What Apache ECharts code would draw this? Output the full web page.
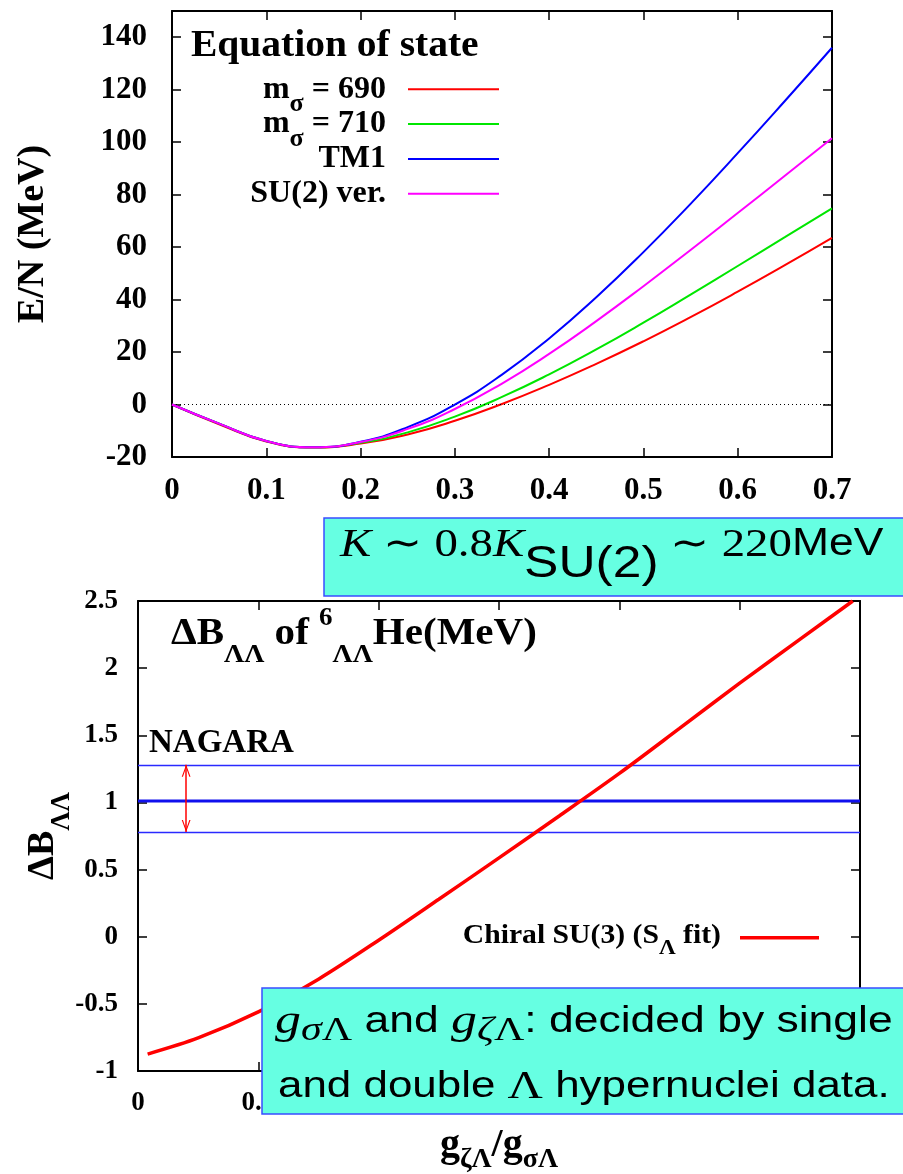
<!DOCTYPE html>
<html>
<head>
<meta charset="utf-8">
<script src="https://cdn.jsdelivr.net/npm/echarts@6/dist/echarts.min.js"></script>
<style>
  html, body { margin: 0; padding: 0; background: #ffffff; }
  #chart { width: 903px; height: 1174px; }
</style>
</head>
<body>
<div id="chart"></div>
<script>
const SERIF = '"Liberation Serif", "Times New Roman", serif';
const SANS = '"Liberation Sans", Arial, sans-serif';

// ---- Equation of state: E/N (MeV) against density ----
const density   = [0, 0.05, 0.1, 0.15, 0.2, 0.25, 0.3, 0.35, 0.4, 0.45, 0.5, 0.55, 0.6, 0.65, 0.7];
const eosMs690  = [0, -7.5, -14.1, -16.4, -14.9, -11.4, -6.2, 0.2, 7.5, 15.5, 24.1, 33.3, 43.0, 53.1, 63.5];
const eosMs710  = [0, -7.3, -13.9, -16.3, -14.6, -10.6, -4.6, 2.9, 11.5, 21.0, 31.2, 41.9, 52.8, 63.8, 74.8];
const eosTM1    = [0, -7.3, -13.9, -16.3, -14.2, -8.6, 0.0, 11.4, 25.2, 40.9, 58.1, 76.5, 95.8, 115.7, 136.0];
const eosSU2    = [0, -7.3, -13.9, -16.3, -14.3, -9.3, -1.7, 8.0, 19.3, 31.8, 45.1, 58.9, 73.0, 87.2, 101.5];
const eosNames  = ['m_σ = 690', 'm_σ = 710', 'TM1', 'SU(2) ver.'];
const eosLegend = ['{b|m}{s|σ}{b| = 690}', '{b|m}{s|σ}{b| = 710}', '{b|TM1}', '{b|SU(2) ver.}'];
const eosColors = ['#ff0000', '#00e600', '#0000ff', '#ff00ff'];
const eosXAxis  = [0, 0.7, 0.1];     // min, max, step
const eosYAxis  = [-20, 150, 20];

// ---- Double-Lambda bond energy against coupling ratio ----
const couplingRatio = [0.008, 0.05, 0.1, 0.15, 0.2, 0.25, 0.3, 0.35, 0.4, 0.45, 0.5, 0.55, 0.594];
const deltaBLL      = [-0.874, -0.754, -0.56, -0.316, -0.026, 0.279, 0.587, 0.899, 1.216, 1.551, 1.888, 2.214, 2.5];
const chiralName    = 'Chiral SU(3) (S_Λ fit)';
const chiralLegend  = '{b|Chiral SU(3) (S}{s|Λ}{b| fit)}';
const nagaraCentral = 1.01;
const nagaraBand    = [0.78, 1.28];
const bllXAxis      = [0, 0.6, 0.1];
const bllYAxis      = [-1, 2.5, 0.5];

const ARROW_X = 0.04;   // horizontal place of the NAGARA error arrow
const chevron = 'path://M0,0 L0.01,0 L0,0.01 Z M24,24 L23.99,24 L24,23.99 Z ' +
                'M12,12 L16.4,24 L15.2,24 L12,15 L8.8,24 L7.6,24 Z';
const eosKeyIcon = 'path://M0,0 L0.01,0 L0,0.01 Z M0,6 L91,6 L91,8 L0,8 Z M91,14 L90.99,14 L91,13.99 Z';
const bllKeyIcon = 'path://M0,0 L0.01,0 L0,0.01 Z M0,5.3 L79,5.3 L79,8.7 L0,8.7 Z M79,14 L78.99,14 L79,13.99 Z';

const black = '#000000';

function valueAxis(range, gridIndex, position, showLabel, labelOpt, nameOpt) {
  const ax = {
    type: 'value', gridIndex, position,
    min: range[0], max: range[1], interval: range[2],
    axisLine: { show: true, onZero: false, lineStyle: { color: black, width: 2 } },
    axisTick: { show: true, inside: true, length: 9, lineStyle: { color: black, width: 1.5 } },
    splitLine: { show: false },
    axisLabel: Object.assign({
      show: showLabel, color: black, fontFamily: SERIF, fontWeight: 'bold'
    }, labelOpt || {})
  };
  if (nameOpt) Object.assign(ax, nameOpt, { nameMoveOverlap: false });
  return ax;
}

const eosSeries = [eosMs690, eosMs710, eosTM1, eosSU2].map((vals, i) => ({
  name: eosNames[i],
  type: 'line',
  xAxisIndex: 0, yAxisIndex: 0,
  data: density.map((x, j) => [x, vals[j]]),
  smooth: 0.5,
  symbol: 'none',
  lineStyle: { color: eosColors[i], width: 2 },
  itemStyle: { color: eosColors[i] },
  z: 3 + i,
  markLine: i === 0 ? {
    silent: true, symbol: ['none', 'none'], label: { show: false },
    lineStyle: { color: black, type: [1, 3], width: 1 },
    data: [{ yAxis: 0 }]
  } : undefined
}));

const bllSeries = [
  {
    name: 'NAGARA', type: 'line', xAxisIndex: 2, yAxisIndex: 2,
    data: [[bllXAxis[0], nagaraCentral], [bllXAxis[1], nagaraCentral]],
    symbol: 'none', lineStyle: { color: '#1010ee', width: 3 }, z: 3,
    markLine: {
      silent: true, label: { show: false }, symbol: ['none', 'none'],
      data: [
        { yAxis: nagaraBand[1], lineStyle: { color: '#2a2aff', width: 1.3, type: 'solid' } },
        { yAxis: nagaraBand[0], lineStyle: { color: '#2a2aff', width: 1.3, type: 'solid' } },
        [
          { coord: [ARROW_X, nagaraBand[0]], symbol: chevron, symbolSize: 24 },
          { coord: [ARROW_X, nagaraBand[1]], symbol: chevron, symbolSize: 24,
            lineStyle: { color: '#ff0000', width: 1.5, type: 'solid' } }
        ]
      ]
    }
  },
  {
    name: chiralName, type: 'line', xAxisIndex: 2, yAxisIndex: 2,
    data: couplingRatio.map((x, j) => [x, deltaBLL[j]]),
    smooth: 0.3, symbol: 'none',
    lineStyle: { color: '#ff0000', width: 3.5 }, itemStyle: { color: '#ff0000' }, z: 5
  }
];

const topLabel = { fontSize: 31 };
const botLabel = { fontSize: 27 };

// key labels, right-aligned next to the legend lines
const eosKeyRich = {
  b: { fontFamily: SERIF, fontWeight: 'bold', fontSize: 32, lineHeight: 58, fill: black },
  s: { fontFamily: SERIF, fontWeight: 'bold', fontSize: 26, padding: [30, 0, 0, 0], fill: black }
};
const eosKeyRowY = [89.3, 124.1, 158.9, 193.7];
const eosKeyText = eosLegend.map((t, i) => ({
  type: 'text', x: 386, y: eosKeyRowY[i], z: 50,
  style: { text: t, align: 'right', verticalAlign: 'middle', rich: eosKeyRich }
}));

const option = {
  animation: false,
  backgroundColor: '#ffffff',
  grid: [
    { left: 172, top: 11, width: 660, height: 446, outerBoundsMode: 'none', containLabel: false },
    { left: 138, top: 601, width: 722, height: 470, outerBoundsMode: 'none', containLabel: false }
  ],
  xAxis: [
    valueAxis(eosXAxis, 0, 'bottom', true, Object.assign({ margin: 18 }, topLabel)),
    valueAxis(eosXAxis, 0, 'top', false),
    valueAxis(bllXAxis, 1, 'bottom', true, Object.assign({ margin: 19 }, botLabel), {
      name: '{b|g}{s|ζΛ}{b|/g}{s|σΛ}', nameLocation: 'middle', nameGap: 47,
      nameTextStyle: { rich: {
        b: { fontFamily: SERIF, fontWeight: 'bold', fontSize: 40, lineHeight: 54, color: black },
        s: { fontFamily: SERIF, fontWeight: 'bold', fontSize: 28, padding: [28, 0, 0, 0], color: black }
      } }
    }),
    valueAxis(bllXAxis, 1, 'top', false)
  ],
  yAxis: [
    valueAxis(eosYAxis, 0, 'left', true, Object.assign({ margin: 25, showMaxLabel: false }, topLabel), {
      name: 'E/N (MeV)', nameLocation: 'middle', nameGap: 119, nameRotate: 90,
      nameTextStyle: { fontFamily: SERIF, fontWeight: 'bold', fontSize: 38, lineHeight: 40, color: black }
    }),
    valueAxis(eosYAxis, 0, 'right', false),
    valueAxis(bllYAxis, 1, 'left', true, Object.assign({ margin: 20 }, botLabel), {
      name: '{b|ΔB}{s|ΛΛ}', nameLocation: 'middle', nameGap: 62, nameRotate: 90,
      nameTextStyle: { rich: {
        b: { fontFamily: SERIF, fontWeight: 'bold', fontSize: 38, lineHeight: 66, color: black },
        s: { fontFamily: SERIF, fontWeight: 'bold', fontSize: 27, padding: [39, 0, 0, 0], color: black }
      } }
    }),
    valueAxis(bllYAxis, 1, 'right', false)
  ],
  legend: [
    {
      data: eosNames, orient: 'vertical', align: 'left',
      left: 408, top: 89.3 - 7, padding: 0, itemGap: 34.8 - 14,
      itemWidth: 91, itemHeight: 14, icon: eosKeyIcon, selectedMode: false,
      formatter: () => '', textStyle: { fontSize: 1 }
    },
    {
      data: [chiralName], orient: 'vertical', align: 'left',
      left: 740, top: 937.7 - 7, padding: 0,
      itemWidth: 79, itemHeight: 14, icon: bllKeyIcon, selectedMode: false,
      formatter: () => '', textStyle: { fontSize: 1 }
    }
  ],
  graphic: eosKeyText.concat([
    { type: 'text', x: 721, y: 936, z: 50, scaleX: 1.06,
      style: {
        text: chiralLegend, align: 'right', verticalAlign: 'middle',
        rich: {
          b: { fontFamily: SERIF, fontWeight: 'bold', fontSize: 28, lineHeight: 46, fill: black },
          s: { fontFamily: SERIF, fontWeight: 'bold', fontSize: 22, padding: [24, 0, 0, 0], fill: black }
        }
      } },
    { type: 'text', x: 191, y: 46, z: 50, scaleX: 1.04,
      style: { text: 'Equation of state', fontFamily: SERIF, fontWeight: 'bold', fontSize: 38,
               fill: black, verticalAlign: 'middle', align: 'left' } },
    { type: 'text', x: 171, y: 634, z: 50, scaleX: 1.08,
      style: {
        text: '{b|ΔB}{s|ΛΛ}{b| of }{u|6}{s|ΛΛ}{b|He(MeV)}', verticalAlign: 'middle', align: 'left',
        rich: {
          b: { fontFamily: SERIF, fontWeight: 'bold', fontSize: 38, lineHeight: 70, fill: black },
          s: { fontFamily: SERIF, fontWeight: 'bold', fontSize: 26, padding: [43, 0, 0, 0], fill: black },
          u: { fontFamily: SERIF, fontWeight: 'bold', fontSize: 25, padding: [7, 0, 38, 0], fill: black }
        }
      } },
    { type: 'text', x: 149, y: 743, z: 50,
      style: { text: 'NAGARA', fontFamily: SERIF, fontWeight: 'bold', fontSize: 33,
               fill: black, verticalAlign: 'middle', align: 'left' } },

    // incompressibility note
    { type: 'rect', z: 100, shape: { x: 324, y: 518, width: 600, height: 78 },
      style: { fill: '#66ffe2', stroke: '#3a4cff', lineWidth: 1.5 } },
    { type: 'text', x: 340, y: 545, z: 101, scaleX: 1.17,
      style: {
        text: '{k|K}{r| ∼ 0.8}{k|K}{sub|SU(2)}{r| ∼ 220}{u|MeV}', verticalAlign: 'middle', align: 'left',
        rich: {
          k: { fontFamily: SERIF, fontStyle: 'italic', fontSize: 40, lineHeight: 84, fill: black },
          r: { fontFamily: SERIF, fontSize: 40, lineHeight: 84, fill: black },
          sub: { fontFamily: SANS, fontSize: 44, padding: [40, 0, 0, 0], fill: black },
          u: { fontFamily: SANS, fontSize: 38, lineHeight: 84, fill: black }
        }
      } },

    // coupling note
    { type: 'rect', z: 100, shape: { x: 262, y: 988, width: 660, height: 126 },
      style: { fill: '#66ffe2', stroke: '#3a4cff', lineWidth: 1.5 } },
    { type: 'text', x: 275, y: 1022, z: 101, scaleX: 1.235,
      style: {
        text: '{g|g}{si|σ}{su|Λ}{t| and }{g|g}{si|ζ}{su|Λ}{t|: decided by single}',
        verticalAlign: 'middle', align: 'left',
        rich: {
          g: { fontFamily: SERIF, fontStyle: 'italic', fontSize: 42, lineHeight: 52, fill: black },
          si: { fontFamily: SERIF, fontStyle: 'italic', fontSize: 34, padding: [18, 0, 0, 0], fill: black },
          su: { fontFamily: SERIF, fontSize: 34, padding: [18, 0, 0, 0], fill: black },
          t: { fontFamily: SANS, fontSize: 36, lineHeight: 52, fill: black }
        }
      } },
    { type: 'text', x: 278, y: 1087, z: 101, scaleX: 1.22,
      style: {
        text: '{t|and double }{L|Λ}{t| hypernuclei data.}',
        verticalAlign: 'middle', align: 'left',
        rich: {
          t: { fontFamily: SANS, fontSize: 36, lineHeight: 48, fill: black },
          L: { fontFamily: SERIF, fontSize: 40, lineHeight: 48, fill: black }
        }
      } }
  ]),
  series: eosSeries.concat(bllSeries)
};

const chart = echarts.init(document.getElementById('chart'), null, { renderer: 'canvas' });
chart.setOption(option);
</script>
</body>
</html>
